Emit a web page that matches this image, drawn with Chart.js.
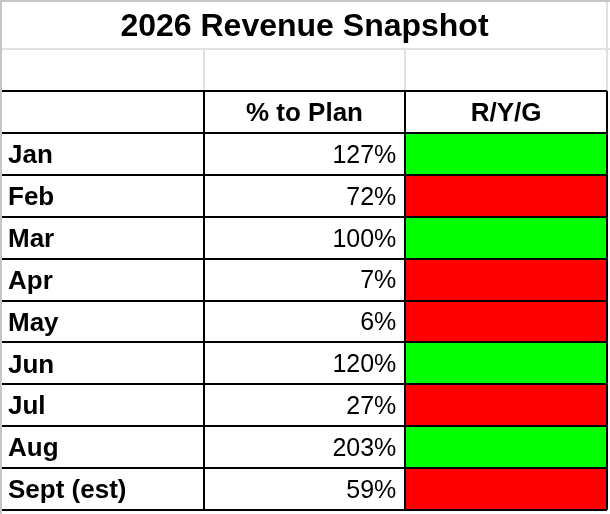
<!DOCTYPE html>
<html>
<head>
<meta charset="utf-8">
<script src="https://cdn.jsdelivr.net/npm/chart.js@4.4.1/dist/chart.umd.min.js"></script>
<style>
  html, body { margin: 0; padding: 0; background: #fff; }
  #sheet {
    width: 608px; height: 512px;
    border-left: 2px solid #c4c7c5;
    border-top: 2px solid #c4c7c5;
  }
  canvas { display: block; }
</style>
</head>
<body>
<div id="sheet"><canvas id="snapshotTable" width="608" height="512"></canvas></div>
<script>
// table contents
var tableTitle = '2026 Revenue Snapshot';
var columnHeaders = ['', '% to Plan', 'R/Y/G'];
var months = ['Jan', 'Feb', 'Mar', 'Apr', 'May', 'Jun', 'Jul', 'Aug', 'Sept (est)'];
var pctToPlan = [127, 72, 100, 7, 6, 120, 27, 203, 59];
var rygStatus = ['G', 'R', 'G', 'R', 'R', 'G', 'R', 'G', 'R'];

var statusColors = { R: '#ff0000', Y: '#ffff00', G: '#00ff00' };
var FONT = '"Liberation Sans", Arial, sans-serif';
var TEXT_DROP = 2; // canvas 'middle' sits a bit above the cap centre

// first row of the grid is the header row
var rowLabels = [''].concat(months);
var rygCells = [null].concat(months.map(function () { return [2, 3]; }));
var rygColors = ['rgba(0,0,0,0)'].concat(rygStatus.map(function (s) { return statusColors[s]; }));

// axes only carry the grid, they take no room of their own
function noRoom(scale) {
    if (scale.isHorizontal()) scale.height = 0; else scale.width = 0;
    scale.paddingTop = scale.paddingBottom = scale.paddingLeft = scale.paddingRight = 0;
}

// light sheet gridlines above the table (title row + empty row)
var sheetLines = {
    id: 'sheetLines',
    beforeDatasetsDraw: function (chart) {
        var ctx = chart.ctx, area = chart.chartArea;
        var x = chart.scales.x, y = chart.scales.y;
        var rowH = y.getPixelForValue(1) - y.getPixelForValue(0);
        var lineY = Math.round(area.top - rowH);
        ctx.save();
        ctx.fillStyle = '#e1e1e1';
        ctx.fillRect(area.left, lineY - 1, chart.width, 2);
        [1, 2, 3].forEach(function (v) {
            var px = Math.round(x.getPixelForValue(v));
            ctx.fillRect(px - 1, lineY, 2, area.top - lineY);
        });
        var edge = Math.round(x.getPixelForValue(3));
        ctx.fillRect(edge - 1, 0, 2, lineY);
        ctx.restore();
    }
};

// cell texts: column headers and % to plan values
var cellText = {
    id: 'cellText',
    afterDatasetsDraw: function (chart) {
        var ctx = chart.ctx;
        var x = chart.scales.x, y = chart.scales.y;
        ctx.save();
        ctx.fillStyle = '#000';
        ctx.textBaseline = 'middle';
        ctx.font = 'bold 26px ' + FONT;
        ctx.textAlign = 'center';
        columnHeaders.forEach(function (h, i) {
            if (h) ctx.fillText(h, x.getPixelForValue(i + 0.5), y.getPixelForValue(0) + TEXT_DROP);
        });
        ctx.font = '25px ' + FONT;
        ctx.textAlign = 'right';
        pctToPlan.forEach(function (v, i) {
            ctx.fillText(v + '%', x.getPixelForValue(2) - 9, y.getPixelForValue(i + 1) + TEXT_DROP);
        });
        ctx.restore();
    }
};

var ctx_table = document.getElementById('snapshotTable').getContext('2d');
var chart_table = new Chart(ctx_table, {
    type: 'bar',
    data: {
        labels: rowLabels,
        datasets: [{
            label: 'R/Y/G',
            data: rygCells,
            backgroundColor: rygColors,
            borderWidth: 0,
            barPercentage: 1,
            categoryPercentage: 1
        }]
    },
    options: {
        indexAxis: 'y',
        responsive: false,
        animation: false,
        layout: { autoPadding: false, padding: { left: 0, right: 3, top: 0, bottom: 4 } },
        plugins: {
            legend: { display: false },
            tooltip: { enabled: false },
            title: {
                display: true,
                text: tableTitle,
                color: '#000',
                font: { family: FONT, size: 32, weight: 'bold', lineHeight: 1.2 },
                padding: { top: 5.5, bottom: 45.1 }
            }
        },
        scales: {
            x: {
                type: 'linear',
                min: 0,
                max: 3,
                ticks: { display: false, stepSize: 1 },
                border: { display: false },
                grid: {
                    z: 1,
                    drawTicks: false,
                    lineWidth: 2,
                    color: function (c) { return c.index === 0 ? 'rgba(0,0,0,0)' : '#000'; }
                },
                afterFit: noRoom
            },
            y: {
                type: 'category',
                offset: true,
                border: { display: false },
                grid: { z: 1, offset: true, drawTicks: false, lineWidth: 2, color: '#000' },
                ticks: {
                    mirror: true,
                    padding: 6,
                    labelOffset: TEXT_DROP,
                    autoSkip: false,
                    color: '#000',
                    font: { family: FONT, size: 26, weight: 'bold' }
                },
                afterFit: noRoom
            }
        }
    },
    plugins: [sheetLines, cellText]
});
</script>
</body>
</html>
